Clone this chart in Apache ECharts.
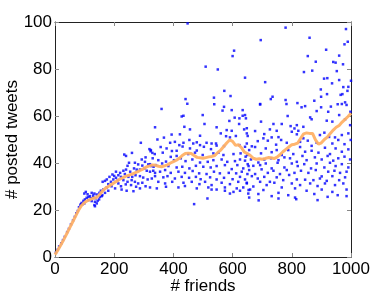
<!DOCTYPE html>
<html>
<head>
<meta charset="utf-8">
<script src="https://cdn.jsdelivr.net/npm/echarts@6/dist/echarts.min.js"></script>
<style>
html,body{margin:0;padding:0;background:#fff;}
#chart{width:388px;height:295px;}
</style>
</head>
<body>
<div id="chart"></div>
<script>
// ---- data ----
const xTicks = [0, 200, 400, 600, 800, 1000];
const yTicks = [0, 20, 40, 60, 80, 100];
const xLabel = '# friends';
const yLabel = '# posted tweets';

// moving-average line (friends, tweets)
const lineFriends = [0,10,20,30,40,50,60,70,80,90,100,110,120,130,140,150,160,170,180,190,200,210,220,230,240,250,260,270,280,290,300,310,320,330,340,350,360,370,380,390,400,410,420,430,440,450,460,470,480,490,500,510,520,530,540,550,560,570,580,590,600,610,620,630,640,650,660,670,680,690,700,710,720,730,740,750,760,770,780,790,800,810,820,830,840,850,860,870,880,890,900,910,920,930,940,950,960,970,980,990,1000];
const lineTweets = [1,3,5.2,7.5,10,12.5,15,17.5,20,22,23.2,24,24.5,25,25.3,26.5,28,29.2,30,30.8,31.6,32.4,33.2,33.8,34.4,34.8,35.3,35.8,36.3,37,37.6,38.4,38.8,39.2,39,38.6,38.4,38.8,39.2,40,40.6,41.2,42,43.2,44,44.2,44,43.2,42.4,42.2,42,42.3,42.6,42.8,43.2,44.5,45.5,47,48.5,49.8,49.2,47.5,47.8,46.5,44.6,44,43.2,42,41.6,41.8,41.6,41.9,42.3,42.2,41.9,42.5,43.5,44.8,45.8,46.8,47.8,48,48.5,50.5,52.4,52.8,52.6,52.6,49.8,48,48.6,50,51,52.6,54,55.2,56,57.4,58.6,59.8,61.2];

// scatter points [friends, tweets]
const scatterPoints = [
[3,1.9],[9,3.1],[14,4.5],[21,5.8],[27,7.2],[33,8.6],[41,10.6],[47,12],[54,13.9],[61,15.6],[67,17.1],[72,18.6],[77,19.6],[81,21.2],[86,22.2],[88,22.5],[90,23],[92,22.4],[96,23.9],[99,22.8],[101,24.5],[104,27.7],[107,25.2],[99,27],[110,26.7],[113,25.6],[113,24.2],[118,25.9],[122,25],[124,27.3],[124,23.8],[129,26.2],[129,25.3],[133,27],[133,22.1],[135,23.5],[135,21.6],[137,25],[141,26.6],[141,22.8],[144,23.9],[149,24.5],[150,27.3],[152,25.6],[155,28.2],[158,25.9],[160,26.3],[163,28.7],[161,32],[169,32.4],[169,27.3],[175,33],[175,29.6],[180,31],[180,28.2],[184,34.1],[189,32],[191,30.1],[194,35.1],[197,33],[200,34.5],[203,29.2],[206,33.7],[206,36.3],[212,32.7],[214,34.8],[214,31.3],[220,35.8],[223,34.1],[223,30.1],[225,28.7],[231,36.7],[231,32.7],[234,43.6],[236,35.3],[239,30.9],[240,43],[240,37.2],[242,28.2],[245,38.8],[245,32],[248,34.1],[250,40.1],[254,36.3],[257,30.6],[259,32.7],[260,44.3],[261,34.1],[265,28],[267,37.7],[270,40.1],[270,32],[272,34.8],[274,29.9],[276,37.2],[281,39.4],[281,31.3],[287,37.2],[287,34.4],[287,29.2],[290,48.6],[293,41.5],[295,38.9],[295,31.6],[298,33.8],[302,37.7],[304,40.5],[306,42.4],[306,30.1],[310,36.7],[313,33],[315,39.4],[319,45.9],[321,36.3],[323,45],[325,38.7],[327,33.4],[329,44.3],[333,38.4],[338,35.8],
[448,99.4],[605,87.8],[600,85.5],[509,81],[550,79.8],[642,76.3],[572,70.7],[593,68.5],[441,67.2],[447,65.2],[537,67.8],[538,65],[360,63],[566,62.3],[597,62.5],[434,60.1],[499,60.4],[607,59.3],[623,59],[634,60.1],[589,57.9],[505,56.6],[622,56.6],[338,55.2],[437,55.4],[456,54.3],[546,55.2],[580,54],[597,53.7],[639,54.3],[428,59.8],[571,63.9],[634,62.5],[645,59],[648,54.8],
[368,50.8],[394,52.1],[422,52.2],[454,49.8],[490,51.6],[512,48.6],[560,52.6],[578,51.4],[591,50.9],[611,51.5],[648,52.6],[346,50],[389,48.6],[405,49],[420,47.6],[434,48.6],[467,48.3],[479,48.8],[490,47.6],[529,48.3],[544,48.3],
[324,45.5],[357,46.8],[377,46.2],[395,45.1],[411,45.2],[431,47],[456,46.2],[479,45.3],[503,46.9],[527,45.9],[546,47.4],[571,47.2],[623,47.6],[642,46.9],[337,43.8],[364,44.4],[391,42.6],[411,43],[450,43.8],[473,44.4],[499,43.4],[535,44.1],[552,44.4],[569,43.4],[603,43.8],[627,44.1],[650,43.4],
[330,42],[349,41.2],[375,40.6],[402,41.2],[425,42],[441,40.8],[464,41.5],[490,40.2],[516,40.5],[535,41.2],[563,41.5],[582,40.5],[608,40.8],[625,41.5],[642,41],[321,39.5],[341,39.1],[362,39.8],[383,38.7],[411,38.1],[430,38.4],[454,37.7],[476,38.8],[501,38.4],[526,38.1],[546,38.7],[574,39.1],[597,37.4],[616,39.1],[636,37.7],[654,38.7],
[332,36.7],[355,36.3],[372,37],[391,35.8],[417,36.3],[439,35.8],[465,36.6],[487,35.6],[512,35.3],[537,36.3],[557,35.6],[587,35.8],[612,35.6],[631,36.3],[650,35.3],[338,34.4],[366,33.9],[380,34.4],[405,33.4],[428,34.1],[453,33.7],[476,34.1],[492,33.1],[524,33.9],[546,33],[571,33.7],[600,33.1],[625,34.1],[642,33],
[349,32],[372,31.3],[396,32],[434,31.6],[462,32],[488,31],[507,32],[529,30.6],[563,31.6],[591,31],[619,32],[648,31.3],[321,29.6],[344,29.2],[375,29.9],[417,29.6],[439,30.2],[479,29.2],[518,29.6],[546,28.7],[574,29.6],[614,29.2],[636,29.6],[529,28.7],[574,28.2],[603,27.7],[625,28.2],[654,28.5],[591,27],[653,27],[515,24.9],[470,22.5],
[779,97.6],[983,97],[695,92.3],[860,93.3],[989,91.6],[978,90.5],[916,88.2],[854,85.5],[960,85.7],[881,83.1],[940,83],[948,82.7],[973,82],[841,78.7],[869,79.3],[952,79.1],[710,74.4],[909,75.9],[920,76.1],[960,75.3],[1000,75],[936,73.9],[898,71.3],[974,72.3],[991,72.4],[988,70.7],[735,68.2],[729,67.2],[779,66.8],[819,65.5],[876,66.5],[899,68.2],[919,69.3],[965,69],[971,69.3],[980,65.8],[782,65.1],[693,64.9],[955,65],
[693,65.1],[833,63.7],[845,64.2],[884,62.1],[899,63.7],[932,64],[923,61.8],[969,65.1],[985,64.7],[960,60.4],[998,61.8],[642,60.4],[696,57.6],[738,56.6],[766,56.6],[786,60],[796,55.7],[817,56.1],[839,55.4],[862,59.4],[867,58.6],[918,58],[937,57.6],[980,58.6],[997,56.1],
[651,51.5],[676,53.6],[707,52.3],[726,54.3],[749,53.7],[755,51],[800,53.3],[809,54.7],[817,52.2],[822,53.7],[895,51.9],[910,52.9],[926,51.1],[946,50.9],[969,51.9],[991,52.6],[648,48.3],[665,47.1],[685,49.3],[704,50.5],[719,49.5],[732,50.9],[747,47.8],[764,49.8],[783,48.6],[828,49],[839,50.5],[854,49.5],[867,47.3],[884,48.6],[937,48.3],[957,49.8],[978,48],[999,49.8],
[656,45.5],[676,46.8],[696,44.1],[712,46.2],[732,44.6],[749,45.5],[766,43.4],[788,45.5],[805,43.8],[828,46.8],[845,44.8],[867,45.2],[890,44.4],[912,46.5],[929,43.8],[948,46.2],[969,44.8],[991,45.8],[644,42.7],[662,41.5],[687,40.2],[707,41.5],[730,42],[755,41.2],[775,42.4],[794,42],[817,40.5],[836,43],[850,41.2],[878,42.4],[901,41.5],[921,43],[940,41],[957,42],[978,42.7],[997,41.5],
[651,39.5],[670,38.8],[693,39.1],[712,39.8],[732,37.7],[752,40.1],[775,38.1],[800,39.8],[820,38.7],[842,39.5],[865,37.7],[884,39.8],[910,38.1],[929,40.1],[948,38.7],[969,39.5],[991,38.1],[656,37],[676,35.3],[698,37.3],[719,35.8],[738,36.7],[760,35.3],[783,37],[809,35.8],[831,36.7],[856,35.8],[881,37],[901,34.3],[923,36.3],[944,36.7],[963,35.8],[985,36.3],
[665,34.4],[685,33.4],[707,34.1],[726,32],[749,33.9],[771,32.7],[791,34.9],[817,33],[845,32.9],[873,32.7],[895,33.4],[918,32.4],[937,34.4],[960,32.7],[980,33.9],[648,31.6],[670,30],[693,32],[715,30.6],[741,31.6],[766,29.6],[800,31.3],[828,30.6],[862,31.3],[887,30.2],[912,31.3],[946,30.6],[974,31.3],
[659,28.7],[704,28.5],[755,27.3],[811,29.2],[850,28.2],[901,28.7],[937,27.7],[985,28.7],[687,26.8],[732,25.9],[788,26.3],[876,26.8],[955,26.3],[656,25.3],[811,25.3],[921,25.6],[985,25.9],[887,24.2],[755,24.9],[688,24.1],[815,24.6]
];

// ---- chart ----
const chart = echarts.init(document.getElementById('chart'), null, {renderer: 'canvas'});
const font = "'Liberation Sans', Arial, Helvetica, sans-serif";
const plain = v => String(v);
const axisCommon = {
  axisLine: {show: true, onZero: false, lineStyle: {color: '#222', width: 1}},
  axisTick: {show: true, inside: true, length: 4, lineStyle: {color: '#888', width: 1}},
  splitLine: {show: false}
};
chart.setOption({
  animation: false,
  backgroundColor: '#fff',
  grid: {left: 55, right: 37, top: 22, bottom: 38, containLabel: false, outerBoundsMode: 'none'},
  xAxis: [
    Object.assign({
      type: 'value', min: xTicks[0], max: xTicks[xTicks.length - 1], interval: xTicks[1] - xTicks[0],
      position: 'bottom',
      name: xLabel, nameLocation: 'middle', nameGap: 21, nameMoveOverlap: false,
      nameTextStyle: {fontFamily: font, fontSize: 17, color: '#000'},
      axisLabel: {fontFamily: font, fontSize: 17, color: '#000', margin: 4, formatter: plain}
    }, axisCommon),
    Object.assign({
      type: 'value', min: xTicks[0], max: xTicks[xTicks.length - 1], interval: xTicks[1] - xTicks[0],
      position: 'top', axisLabel: {show: false}
    }, axisCommon)
  ],
  yAxis: [
    Object.assign({
      type: 'value', min: yTicks[0], max: yTicks[yTicks.length - 1], interval: yTicks[1] - yTicks[0],
      position: 'left',
      name: yLabel, nameLocation: 'middle', nameGap: 34, nameRotate: 90, nameMoveOverlap: false,
      nameTextStyle: {fontFamily: font, fontSize: 17, color: '#000'},
      axisLabel: {fontFamily: font, fontSize: 17, color: '#000', margin: 3, formatter: plain}
    }, axisCommon),
    Object.assign({
      type: 'value', min: yTicks[0], max: yTicks[yTicks.length - 1], interval: yTicks[1] - yTicks[0],
      position: 'right', axisLabel: {show: false}
    }, axisCommon)
  ],
  series: [
    {
      type: 'scatter',
      data: scatterPoints,
      symbol: 'rect',
      symbolSize: 2.5,
      itemStyle: {color: '#0000ff'},
      z: 2
    },
    {
      type: 'line',
      data: lineFriends.map((f, i) => [f, lineTweets[i]]),
      showSymbol: false,
      smooth: false,
      lineStyle: {color: '#ffb166', width: 3, opacity: 0.95},
      z: 3
    }
  ]
});
</script>
</body>
</html>
